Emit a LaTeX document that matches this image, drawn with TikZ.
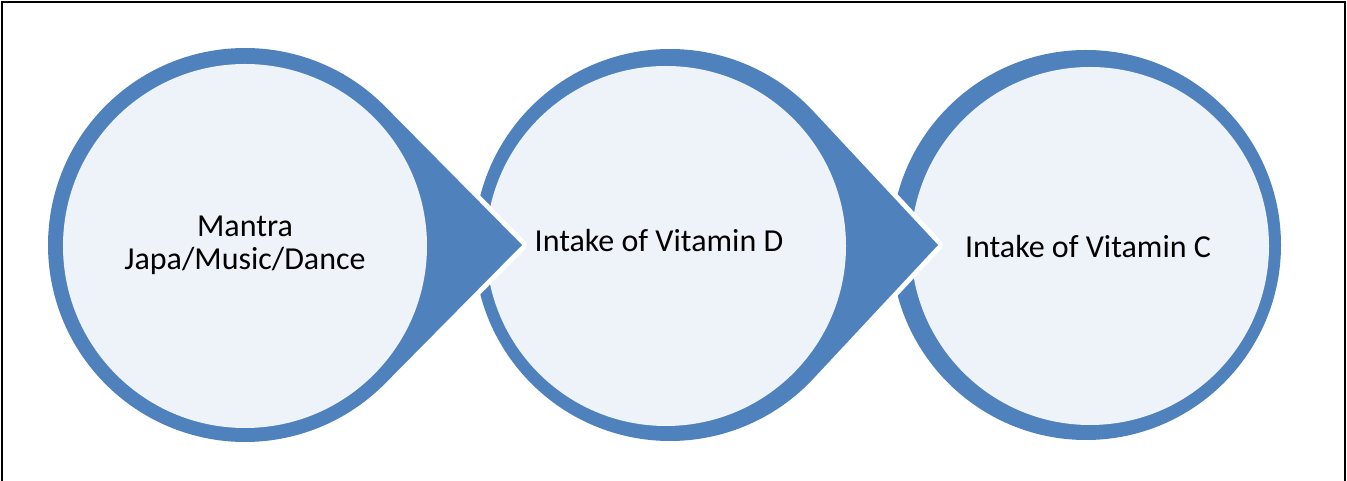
\documentclass[tikz,border=0pt]{standalone}
\usepackage{fontspec}
\setmainfont{Carlito}
\definecolor{ringblue}{RGB}{79,129,189}
\definecolor{innerfill}{RGB}{238,242,249}
\begin{document}
\begin{tikzpicture}[x=1pt,y=1pt,
  shapebody/.style={fill=ringblue, preaction={draw=white, line width=10pt, line join=round}},
  core/.style={fill=innerfill},
  lbl/.style={font=\fontsize{32}{34}\selectfont, text=black, anchor=base, inner sep=0pt}]
\useasboundingbox (0,0) rectangle (1347,481);
\fill[white] (0,0) rectangle (1347,481);
\draw[line width=1.5pt, black] (2,0) -- (2,479) -- (1345,479) -- (1345,0);

% third shape (plain circle)
\coordinate (c3) at (1086,236);
\path[shapebody] (c3) circle[radius=195];
\fill[core] (1090,235) circle[radius=179];

% second shape (teardrop)
\coordinate (c2) at (670,236);
\coordinate (t2) at (938,236);
\path[shapebody] (t2) -- ([shift={(43:196)}]c2) arc[start angle=43, end angle=317, radius=196] -- cycle;
\fill[core] (666,235) circle[radius=180];

% first shape (teardrop)
\coordinate (c1) at (245,236);
\coordinate (t1) at (522,236);
\path[shapebody] (t1) -- ([shift={(44.7:197)}]c1) arc[start angle=44.7, end angle=315.3, radius=197] -- cycle;
\fill[core] (245,235) circle[radius=182];

% texts
\node[lbl] (m1) at (245,244) {Mantra};
\node[lbl] (m2) at (245,211) {Japa/Music/Dance};
\node[lbl] (vd) at (659,229) {Intake of Vitamin D};
\node[lbl] (vc) at (1088,223) {Intake of Vitamin C};
\end{tikzpicture}
\end{document}
